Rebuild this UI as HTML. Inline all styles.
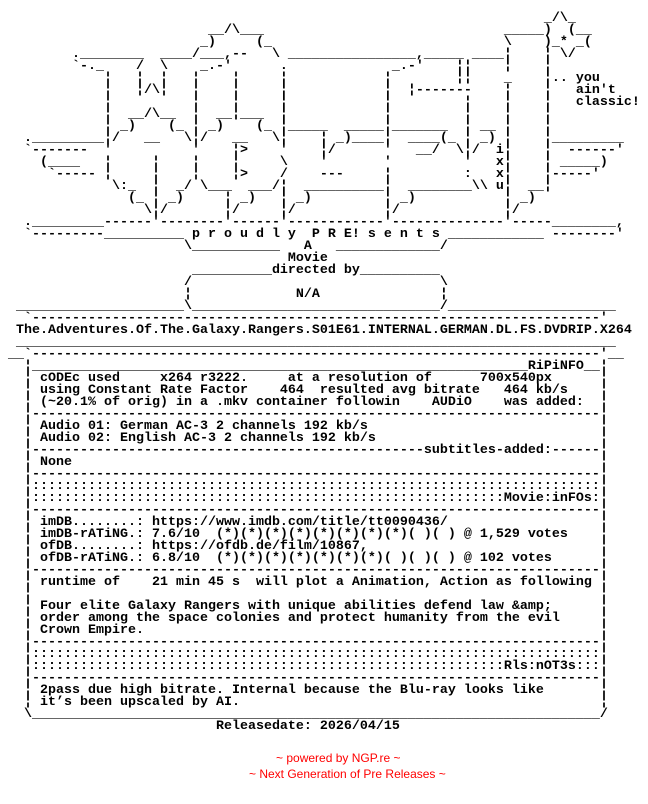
<!DOCTYPE html>
<html><head><meta charset="utf-8"><style>
html,body{margin:0;padding:0;background:#fff;width:648px;height:804px;overflow:hidden;position:relative}
pre{position:absolute;margin:0;font-family:"Liberation Mono",monospace;font-weight:bold;font-size:13.33px;line-height:12px;color:#000;white-space:pre}
.r{position:absolute;font-family:"Liberation Sans",sans-serif;font-size:12px;color:#f00;white-space:pre}
</style></head><body>
<pre style="left:0;top:13px">                                                                    _/\_
                          __/\___                              _____)  (__
                         _)     (_                             \    )_* _(
         .________  ____/___,--   \ ________________,_____ ____¦    ¦ \/
         `-._    /  \    _.-'      .             _.-'    ¦¦    ¦    ¦
             ¦   ¦  ¦   ¦    ¦     ¦            ¦        ¦¦    _    ¦.. you
             ¦   ¦/\¦   ¦    ¦     ¦            ¦  ¦-------    ¦    ¦   ain't
             ¦          ¦    ¦     ¦            ¦         ¦    ¦    ¦   classic!
             ¦  __/\__  ¦  __¦___  ¦            ¦         ¦    ¦    ¦
             ¦ _)    (_ ¦ _)    (_ ¦_____  _____¦_______  ¦ __ ¦    ¦
   ._________¦/   __   \¦/   __   \¦    ¦ _)____¦  ____(_ ¦ _) ¦    ¦_________
   `-------  '          '    ¦>    '    ¦/      '   __/  \¦/  i¦    ¦  ------'
     (____   ¦     ¦    ¦    ¦     \    '       '         '   x¦    ¦ _____)
      `----- ¦     ¦    ¦    ¦>    /    ---     ¦         :   x¦    ¦-----'
              \:_  ¦  _/ \___  ___/¦  __________¦  ________\\ u¦  __¦
                (_ ¦ _)     ¦ _)   ¦ _)         ¦ _)           ¦ _)
                  \¦/       ¦/     ¦/           ¦/             ¦/
   ._________------'--------'------'------------'--------------'-----________,
   `---------__________ p r o u d l y  P R E! s e n t s ____________ --------'
                       \___________   A   _____________/
                                    Movie
                        __________directed by__________
                       /                               \
                       ¦             N/A               ¦
  _____________________\_______________________________/_____________________
   `-----------------------------------------------------------------------'
  The.Adventures.Of.The.Galaxy.Rangers.S01E61.INTERNAL.GERMAN.DL.FS.DVDRIP.X264
  ___________________________________________________________________________
 __`-----------------------------------------------------------------------'__
   ¦______________________________________________________________RiPiNFO__
   ¦ cODEc used     x264 r3222.     at a resolution of      700x540px
   ¦ using Constant Rate Factor    464  resulted avg bitrate   464 kb/s
   ¦ (~20.1% of orig) in a .mkv container followin    AUDiO    was added:
   ¦-----------------------------------------------------------------------
   ¦ Audio 01: German AC-3 2 channels 192 kb/s
   ¦ Audio 02: English AC-3 2 channels 192 kb/s
   ¦-------------------------------------------------subtitles-added:------
   ¦ None
   ¦-----------------------------------------------------------------------
   ¦:::::::::::::::::::::::::::::::::::::::::::::::::::::::::::::::::::::::
   ¦:::::::::::::::::::::::::::::::::::::::::::::::::::::::::::Movie:inFOs:
   ¦-----------------------------------------------------------------------
   ¦ imDB........: https://www.imdb.com/title/tt0090436/
   ¦ imDB-rATiNG.: 7.6/10  (*)(*)(*)(*)(*)(*)(*)(*)( )( ) @ 1,529 votes
   ¦ ofDB........: https://ofdb.de/film/10867,
   ¦ ofDB-rATiNG.: 6.8/10  (*)(*)(*)(*)(*)(*)(*)( )( )( ) @ 102 votes
   ¦-----------------------------------------------------------------------
   ¦ runtime of    21 min 45 s  will plot a Animation, Action as following
   ¦
   ¦ Four elite Galaxy Rangers with unique abilities defend law &amp;amp;
   ¦ order among the space colonies and protect humanity from the evil
   ¦ Crown Empire.
   ¦-----------------------------------------------------------------------
   ¦:::::::::::::::::::::::::::::::::::::::::::::::::::::::::::::::::::::::
   ¦:::::::::::::::::::::::::::::::::::::::::::::::::::::::::::Rls:nOT3s:::
   ¦-----------------------------------------------------------------------
   ¦ 2pass due high bitrate. Internal because the Blu-ray looks like
   ¦ it’s been upscaled by AI.
   \_______________________________________________________________________/
                           Releasedate: 2026/04/15</pre>
<pre style="left:600px;top:361px">¦
¦
¦
¦
¦
¦
¦
¦
¦
¦
¦
¦
¦
¦
¦
¦
¦
¦
¦
¦
¦
¦
¦
¦
¦
¦
¦
¦
¦</pre>
<div class="r" style="left:276px;top:751px">~ powered by NGP.re ~</div>
<div class="r" style="left:249px;top:767px">~ Next Generation of Pre Releases ~</div>
</body></html>
